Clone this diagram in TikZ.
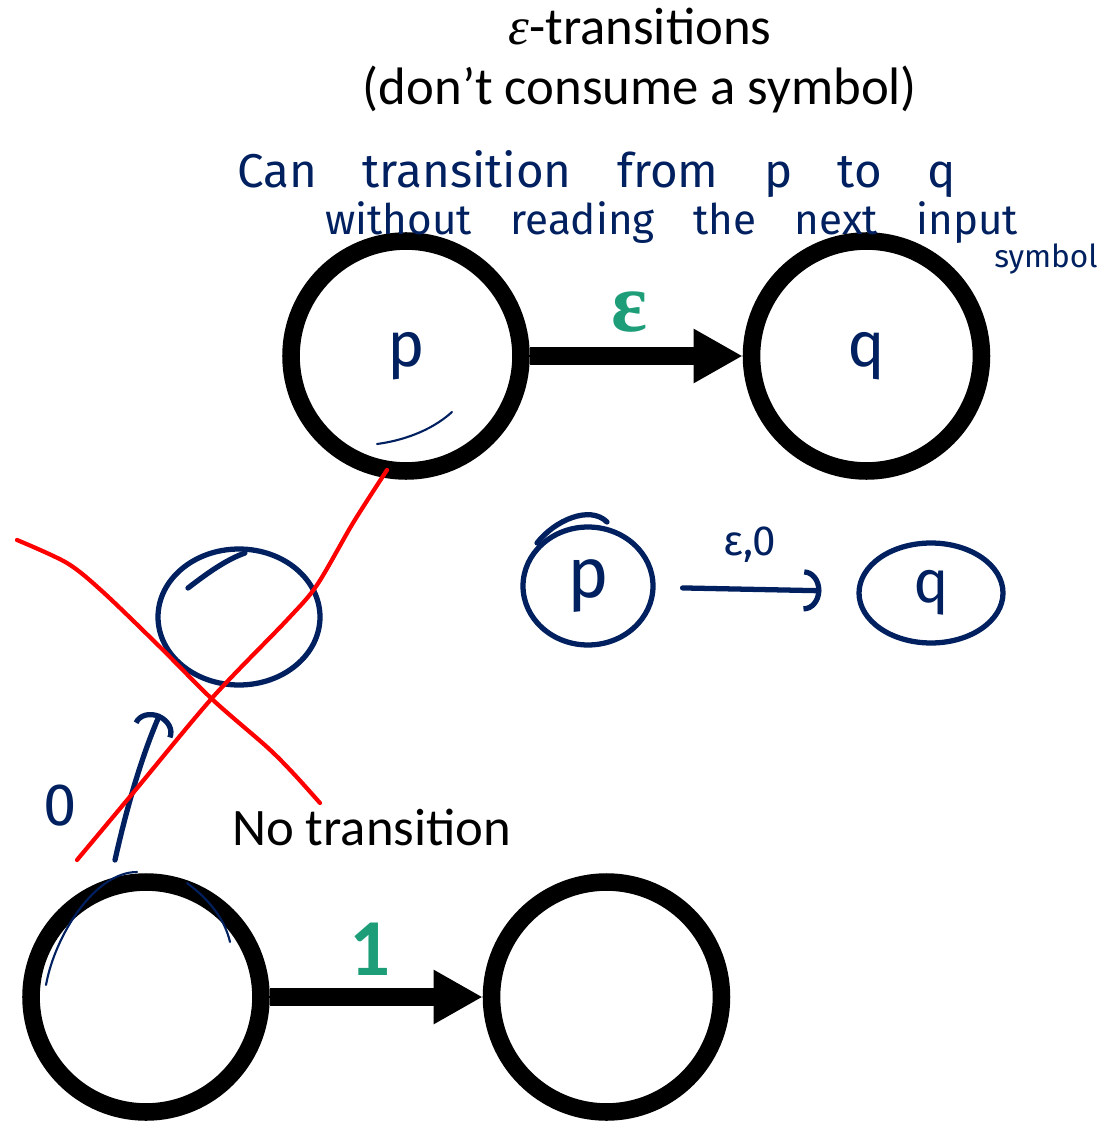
\documentclass[tikz,border=0pt]{standalone}
\usepackage{fontspec}
\setmainfont{Carlito}
\newfontfamily\hand{Fira Sans}
\newfontfamily\grk{Liberation Serif}
\usetikzlibrary{arrows.meta,shapes.geometric,positioning}
\definecolor{InkBlue}{RGB}{0,32,96}
\definecolor{LblGreen}{RGB}{30,158,120}
\definecolor{InkRed}{RGB}{255,0,0}

\begin{document}
\begin{tikzpicture}[x=0.02cm,y=-0.02cm,
    circ/.style={circle,draw=black,line width=10pt,minimum size=4.6cm,inner sep=0pt,
                 text=InkBlue,font=\hand\fontsize{36}{36}\selectfont},
    arr/.style={-{Triangle[length=28pt,width=29pt]},line width=10pt},
    lbl/.style={text=LblGreen,font=\bfseries},
    txt/.style={font=\fontsize{30}{34}\selectfont},
    ink/.style={draw=InkBlue,line width=3pt,line cap=round,line join=round},
    inkthin/.style={draw=InkBlue,line width=1.2pt,line cap=round},
    hnd/.style={text=InkBlue,inner sep=0pt,font=\hand\fontsize{24}{24}\selectfont},
    harr/.style={ink,-{Arc Barb[length=10pt,width=24pt]}},
    redx/.style={draw=InkRed,line width=2.4pt,line cap=round}
  ]
  \useasboundingbox (0,0) rectangle (1103,1121);
  % slide text
  \node[txt,anchor=base] (title) at (640,45) {{\grk\itshape ε}-transitions};
  \node[txt,anchor=base] (sub) at (640,105) {(don’t consume a symbol)};
  % states
  \node[circ] (p) at (406,356) {p};
  \node[circ,right=4.26cm of p] (q) {q};
  \node[circ] (a) at (146,997) {};
  \node[circ,right=4.26cm of a] (b) {};
  \draw[arr] (p)--(q);
  \draw[arr] (a)--(b);
  \node[lbl,anchor=base,font=\grk\bfseries\fontsize{48}{48}\selectfont] (eps) at (630,332) {ε};
  \node[lbl,anchor=base,font=\bfseries\fontsize{46}{46}\selectfont] (one) at (370,975) {1};
  \node[txt,anchor=base west] (nolbl) at (226,845) {No transition};
  % handwritten notes
  \node[hnd,anchor=base west,font=\hand\fontsize{27}{27}\selectfont] (note1) at (237,188) {\spaceskip=26pt\relax Can transition from p to q};
  \node[hnd,anchor=base west] (note2) at (325,235) {\spaceskip=22pt\relax without reading the next input};
  \node[hnd,anchor=base east,font=\hand\fontsize{18}{18}\selectfont] (note3) at (1098,268) {symbol};
  \draw[inkthin] (377,444) .. controls (400,441) and (430,432) .. (452,412);
  % small sketch on the right
  \node[ink,ellipse,minimum width=2.6cm,minimum height=2.36cm,hnd,
        font=\hand\fontsize{40}{40}\selectfont] (hp) at (588,586) {p};
  \node[ink,ellipse,minimum width=2.88cm,minimum height=2cm,hnd,
        font=\hand\fontsize{34}{34}\selectfont] (hq) at (931,593) {q};
  \draw[ink] (537,543) .. controls (555,520) and (590,505) .. (607,522);
  \draw[harr,shorten <=0.54cm,shorten >=0.7cm] (hp)--(hq);
  \node[hnd,font=\hand\fontsize{24}{24}\selectfont] (elab) at (750,545) {ε,0};
  % crossed-out sketch
  \node[ink,ellipse,minimum width=3.24cm,minimum height=2.72cm] (hr) at (239,617) {};
  \draw[ink] (188,588) .. controls (205,575) and (225,560) .. (245,553);
  \coordinate (a0) at (115,860);
  \coordinate (r0) at (160,714);
  \draw[harr] (a0) .. controls (125,815) and (140,760) .. (r0);
  \node[hnd,font=\hand\fontsize{34}{34}\selectfont] (zero) at (60,806) {0};
  \draw[inkthin] (46,985) .. controls (55,935) and (95,872) .. (137,872);
  \draw[inkthin] (187,883) .. controls (210,900) and (225,920) .. (230,942);
  \draw[redx] plot[smooth] coordinates {(17,540) (67,563) (103,592) (160,647) (213,700) (267,747) (293,773) (320,803)};
  \draw[redx] plot[smooth] coordinates {(77,860) (133,793) (213,697) (287,620) (317,585) (353,523) (387,470)};
\end{tikzpicture}
\end{document}
